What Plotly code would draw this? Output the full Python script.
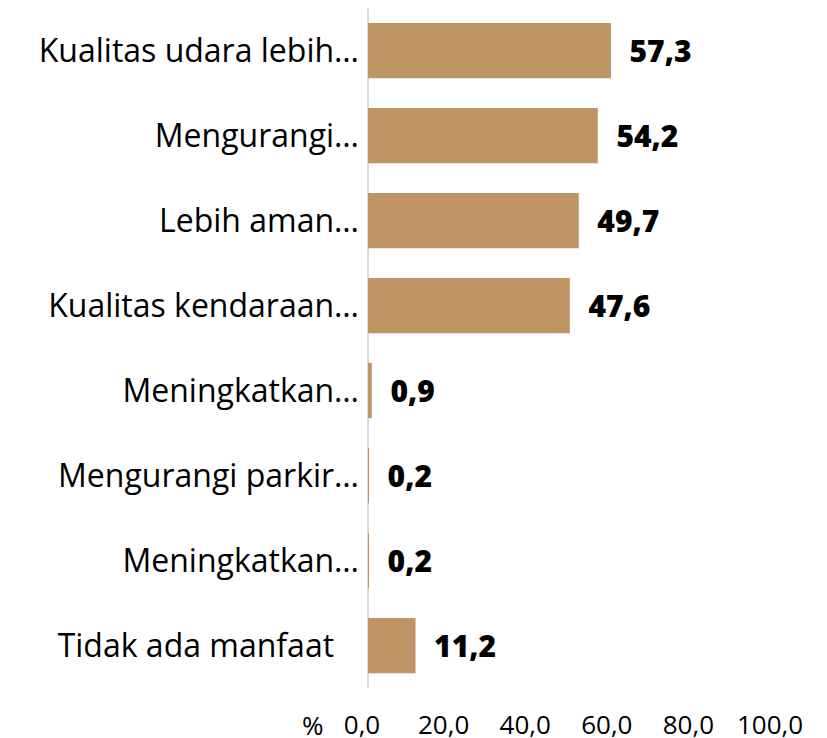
import plotly.graph_objects as go

labels = [
    "Kualitas udara lebih…",
    "Mengurangi…",
    "Lebih aman…",
    "Kualitas kendaraan…",
    "Meningkatkan…",
    "Mengurangi parkir…",
    "Meningkatkan…",
    "Tidak ada manfaat\u00a0\u00a0\u00a0",
]
values = [57.3, 54.2, 49.7, 47.6, 0.9, 0.2, 0.2, 11.2]
tick_vals = [0, 20, 40, 60, 80, 100]
tick_text = ["0,0", "20,0", "40,0", "60,0", "80,0", "100,0"]
unit_label = "%"

positions = list(range(len(labels)))
value_text = ["\u00a0\u00a0" + f"{v:.1f}".replace(".", ",") for v in values]

FONT = "Open Sans"
BAR = "#C09565"

fig = go.Figure()
fig.add_trace(go.Bar(
    x=values, y=positions, orientation="h",
    marker=dict(color=BAR, line=dict(width=0)),
    width=0.65,
    text=value_text, textposition="outside",
    textfont=dict(family=FONT, size=30, color="#000000", weight=800),
    cliponaxis=False, hoverinfo="skip",
))
# invisible helper on secondary axis for the tick labels row
fig.add_trace(go.Scatter(
    x=tick_vals, y=[positions[0]] * len(tick_vals), xaxis="x2",
    mode="markers", marker=dict(opacity=0), hoverinfo="skip", showlegend=False,
))

fig.update_layout(
    width=827, height=738,
    margin=dict(l=352, r=0, t=0, b=58, autoexpand=False),
    paper_bgcolor="#FFFFFF", plot_bgcolor="#FFFFFF",
    showlegend=False,
    font=dict(family=FONT, color="#000000"),
    xaxis=dict(
        range=[-1.89, 110.14], showticklabels=False, showgrid=False,
        zeroline=True, zerolinecolor="#D9D9D9", zerolinewidth=2,
        showline=False, ticks="", automargin=False,
    ),
    xaxis2=dict(
        overlaying="x", side="bottom", anchor="y",
        range=[-0.49, 115.93], tickvals=tick_vals, ticktext=tick_text,
        showgrid=False, zeroline=False, showline=False,
        ticks="outside", ticklen=14, tickcolor="rgba(0,0,0,0)",
        tickfont=dict(family=FONT, size=26, color="#000000"),
        automargin=False,
    ),
    yaxis=dict(
        range=[7.5, -0.5], tickvals=positions, ticktext=labels,
        showgrid=False, zeroline=False, showline=False,
        ticks="",
        tickfont=dict(family=FONT, size=32, color="#000000"),
        automargin=False,
    ),
    annotations=[dict(
        text=unit_label, xref="paper", yref="paper",
        x=(313 - 360) / 475, y=(688 - 725) / 680,
        xanchor="center", yanchor="middle", showarrow=False,
        font=dict(family=FONT, size=26, color="#000000"),
    )],
)

fig.write_html("out.html")
